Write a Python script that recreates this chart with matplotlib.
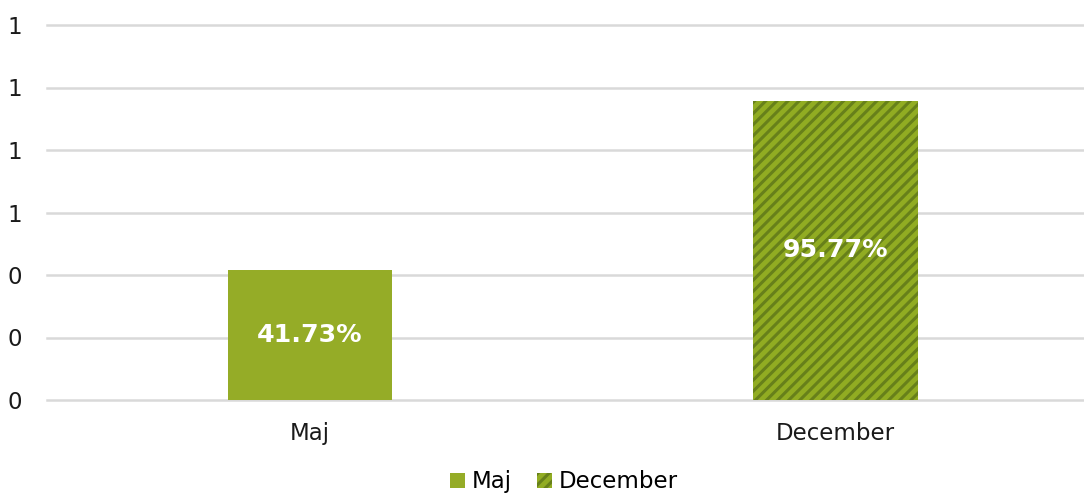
import matplotlib
matplotlib.use("Agg")
import matplotlib.pyplot as plt
from matplotlib.patches import Patch

categories = ["Maj", "December"]
values = [0.4173, 0.9577]
labels = ["41.73%", "95.77%"]
yticks = [0, 0.2, 0.4, 0.6, 0.8, 1.0, 1.2]
ytick_labels = ["0", "0", "0", "1", "1", "1", "1"]

plt.rcParams['font.family'] = ['DejaVu Sans']
plt.rcParams['hatch.linewidth'] = 2.2

W, H = 1084, 497
fig = plt.figure(figsize=(W / 100, H / 100), dpi=100)
ax = fig.add_axes([47 / W, (H - 400) / H, 1 - 47 / W, 375 / H])

solid = "#95AC27"
hatch_face = "#91AC22"
hatch_dark = "#67801A"

x = [0, 1]
bw = 0.314
ax.bar(x[0], values[0], width=bw, color=solid, zorder=3)
ax.bar(x[1], values[1], width=bw, color=hatch_face, edgecolor=hatch_dark,
       hatch="///", linewidth=0, zorder=3)

for xi, v, lab in zip(x, values, labels):
    ax.text(xi, v / 2, lab, ha="center", va="center", color="white",
            fontsize=18.2, fontweight="bold", zorder=4)

ax.set_xlim(-0.501, 1.474)
ax.set_ylim(0, 1.2)
ax.set_yticks(yticks)
ax.set_yticklabels(ytick_labels, fontsize=16.5, color="#1a1a1a")
ax.set_xticks(x)
ax.set_xticklabels(categories, fontsize=16.5, color="#1a1a1a")
for yv in yticks:
    ax.axhline(yv, color="#D9D9D9", linewidth=1.8, zorder=0, clip_on=False)
ax.tick_params(axis="both", length=0)
ax.tick_params(axis="y", pad=18)
ax.tick_params(axis="x", pad=16)
for s in ax.spines.values():
    s.set_visible(False)

handles = [Patch(facecolor=solid, label="Maj"),
           Patch(facecolor=hatch_face, edgecolor=hatch_dark, hatch="///", linewidth=0, label="December")]
fig.legend(handles=handles, loc="lower center", bbox_to_anchor=(0.52, -0.034), ncol=2,
           frameon=False, fontsize=16.5, handlelength=0.65, handleheight=0.65,
           handletextpad=0.3, columnspacing=1.1)

fig.savefig("out.png", dpi=100)
